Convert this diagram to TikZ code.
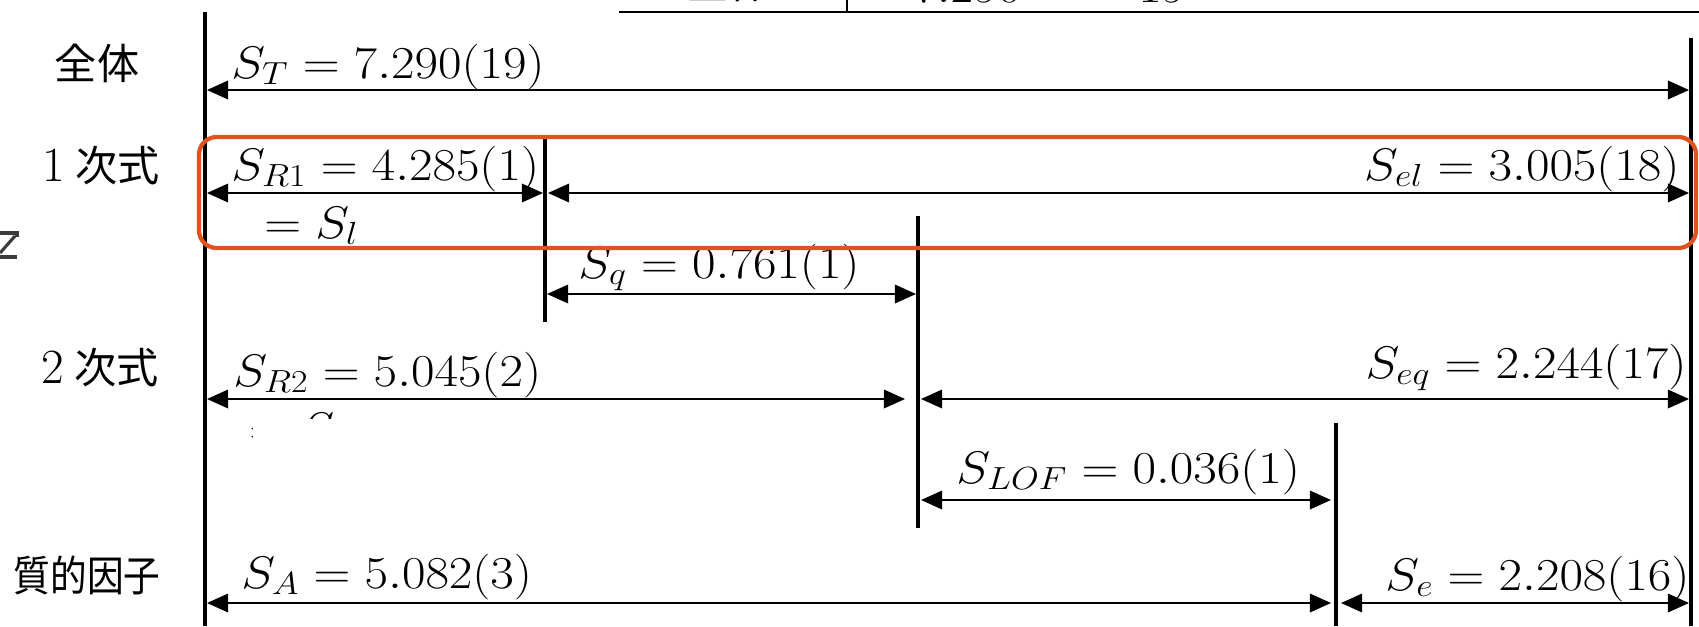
\RequirePackage{fix-cm}
\documentclass[tikz,border=0pt]{standalone}
\usepackage{fontspec}
\newfontfamily\jp{Noto Sans CJK JP}
\usetikzlibrary{arrows.meta}
\definecolor{hl}{RGB}{224,82,30}
\definecolor{frag}{RGB}{60,60,60}
\tikzset{
  vline/.style={line width=2pt},
  tline/.style={line width=1.5pt},
  dim/.style={line width=1.2pt,
    {Triangle[length=12pt,width=10.5pt]}-{Triangle[length=12pt,width=10.5pt]}},
  val/.style={inner sep=0pt, font=\fontsize{26}{30}\selectfont},
  cat/.style={inner sep=0pt, font=\jp\fontsize{24}{28}\selectfont},
  hlbox/.style={draw=hl, line width=2.4pt, rounded corners=10pt},
}
\newcommand\mv[1]{\scalebox{1.12}[1]{$#1$}}
\newcommand\rownum[1]{{\rmfamily\fontsize{28}{30}\selectfont #1}}
\begin{document}
\begin{tikzpicture}[x=0.02cm, y=-0.02cm]
\useasboundingbox (0,0) rectangle (1699,626);

% table rule and fragments at the top edge
\coordinate (tb-l) at (619,12);
\coordinate (tb-r) at (1699,12);
\coordinate (td-t) at (847,-2);
\coordinate (td-b) at (847,12);
\draw[tline] (tb-l) -- (tb-r);
\draw[tline] (td-t) -- (td-b);
\node[cat, anchor=base] (tz) at (729,-2) {全体};
\node[val, anchor=base west] (tv) at (913,2) {\mv{7.290}};
\node[val, anchor=base west] (tf) at (1138,2) {\mv{19}};

% glyph fragment at the left edge
\draw[frag, line width=1.8pt] (0,233) -- (17,233) -- (17,237);
\draw[frag, line width=1.8pt] (15,236) -- (0,253);
\draw[frag, line width=1.8pt] (0,257) -- (17,257);

% division lines
\coordinate (v0t) at (205,12);  \coordinate (v0b) at (205,626);
\coordinate (v1t) at (545,139); \coordinate (v1b) at (545,322);
\coordinate (v2t) at (918,216); \coordinate (v2b) at (918,528);
\coordinate (v3t) at (1336,423);\coordinate (v3b) at (1336,626);
\coordinate (v4t) at (1691,38); \coordinate (v4b) at (1691,626);
\foreach \v in {0,...,4} \draw[vline] (v\v t) -- (v\v b);

% arrow end points
\coordinate (aT1) at (207,90);   \coordinate (aT2) at (1689,90);
\coordinate (aR1a) at (207,193); \coordinate (aR1b) at (543,193);
\coordinate (ael1) at (548,193); \coordinate (ael2) at (1689,193);
\coordinate (aq1) at (547,294);  \coordinate (aq2) at (916,294);
\coordinate (aR2a) at (207,399); \coordinate (aR2b) at (905,399);
\coordinate (aeq1) at (921,399); \coordinate (aeq2) at (1689,399);
\coordinate (aL1) at (921,500);  \coordinate (aL2) at (1331,500);
\coordinate (aA1) at (207,603);  \coordinate (aA2) at (1331,603);
\coordinate (ae1) at (1341,603); \coordinate (ae2) at (1689,603);

\draw[dim] (aT1) -- (aT2);
\draw[dim] (aR1a) -- (aR1b);
\draw[dim] (ael1) -- (ael2);
\draw[dim] (aq1) -- (aq2);
\draw[dim] (aR2a) -- (aR2b);
\draw[dim] (aeq1) -- (aeq2);
\draw[dim] (aL1) -- (aL2);
\draw[dim] (aA1) -- (aA2);
\draw[dim] (ae1) -- (ae2);

% values
\node[val, anchor=base west] (sT) at (231,78) {\mv{S_T = 7.290(19)}};
\node[val, anchor=base west] (sR1) at (231,180) {\mv{S_{R1} = 4.285(1)}};
\node[val, anchor=base west] (sl) at (264,238) {\mv{= S_l}};
\node[val, anchor=base east] (sel) at (1680,180) {\mv{S_{el} = 3.005(18)}};
\node[val, anchor=base west] (sq) at (578,278) {\mv{S_q = 0.761(1)}};
\node[val, anchor=base west] (sR2) at (233,386) {\mv{S_{R2} = 5.045(2)}};
\node[val, anchor=base east] (seq) at (1687,378) {\mv{S_{eq} = 2.244(17)}};
\node[val, anchor=base west] (sL) at (956,483) {\mv{S_{LOF} = 0.036(1)}};
\node[val, anchor=base west] (sA) at (241,588) {\mv{S_A = 5.082(3)}};
\node[val, anchor=base east] (se) at (1690,590) {\mv{S_e = 2.208(16)}};

% second line under S_R2, mostly hidden
\begin{scope}
  \clip (0,0) rectangle (252,626) (0,0) rectangle (340,418);
  \node[val, anchor=base west] (sl2) at (249,444) {\mv{= S_l + S_q}};
\end{scope}

% row captions
\node[cat] (c0) at (97,63) {全体};
\node[cat, anchor=west] (c1) at (42,166) {\rownum{1}\hspace{0.25em}次式};
\node[cat, anchor=west] (c2) at (41,368) {\rownum{2}\hspace{0.25em}次式};
\node[cat] (c3) at (87,575) {\scalebox{0.87}[1]{質的因子}};

% highlight of the first-order split
\draw[hlbox] (199,137) rectangle (1696,248);
\end{tikzpicture}
\end{document}
